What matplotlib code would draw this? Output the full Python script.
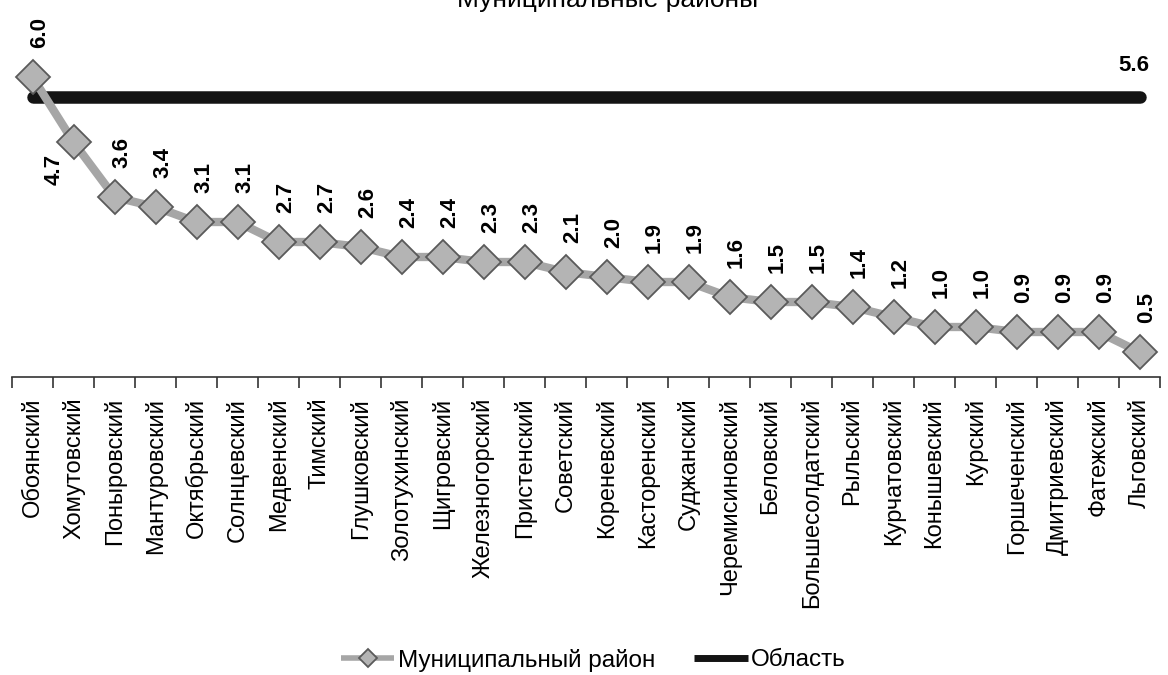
import matplotlib
matplotlib.use("Agg")
import matplotlib.pyplot as plt
import numpy as np

districts = ["Обоянский", "Хомутовский", "Поныровский", "Мантуровский", "Октябрьский",
             "Солнцевский", "Медвенский", "Тимский", "Глушковский", "Золотухинский",
             "Щигровский", "Железногорский", "Пристенский", "Советский", "Кореневский",
             "Касторенский", "Суджанский", "Черемисиновский", "Беловский", "Большесолдатский",
             "Рыльский", "Курчатовский", "Конышевский", "Курский", "Горшеченский",
             "Дмитриевский", "Фатежский", "Льговский"]
district_values = [6.0, 4.7, 3.6, 3.4, 3.1, 3.1, 2.7, 2.7, 2.6, 2.4, 2.4, 2.3, 2.3, 2.1,
                   2.0, 1.9, 1.9, 1.6, 1.5, 1.5, 1.4, 1.2, 1.0, 1.0, 0.9, 0.9, 0.9, 0.5]
region_value = 5.6
series_names = ["Муниципальный район", "Область"]
title = "Муниципальные районы"

FONT = ["Liberation Sans", "DejaVu Sans"]
plt.rcParams['font.family'] = FONT

fig = plt.figure(figsize=(11.68, 6.75), dpi=100)
ax = fig.add_axes([12/1168, (675-377)/675, (1160-12)/1168, 377/675])

x = np.arange(len(districts))
region = [region_value] * len(districts)

ax.plot(x, region, color="#141414", lw=9, solid_capstyle="round", zorder=2,
        label=series_names[1])
ax.plot(x, district_values, color="#a6a6a6", lw=6, marker="D", markersize=17.5,
        markerfacecolor="#b4b4b4", markeredgecolor="#5a5a5a", markeredgewidth=1.3,
        zorder=3, label=series_names[0])

ax.set_xlim(-0.5, len(districts) - 0.5)
ax.set_ylim(0, 7.54)

for xi, v in zip(x, district_values):
    if xi == 1:
        ax.annotate(f"{v:.1f}", (xi, v), xytext=(-14, -19.5), textcoords="offset points",
                    rotation=90, ha="center", va="center", fontsize=16, fontweight="bold")
    else:
        ax.annotate(f"{v:.1f}", (xi, v), xytext=(5, 21), textcoords="offset points",
                    rotation=90, ha="center", va="bottom", fontsize=16, fontweight="bold")
ax.annotate(f"{region_value:.1f}", (x[-1], region_value), xytext=(-4, 15),
            textcoords="offset points", ha="center", va="bottom", fontsize=16,
            fontweight="bold")

ax.set_xticks(x)
ax.set_xticklabels(districts, rotation=90, fontsize=17)
ax.tick_params(axis="x", which="major", length=0, pad=15)
ax.set_xticks(np.arange(len(districts) + 1) - 0.5, minor=True)
ax.tick_params(axis="x", which="minor", length=8, width=1.2, color="#333333")
ax.set_yticks([])
for s in ["top", "right", "left"]:
    ax.spines[s].set_visible(False)
ax.spines["bottom"].set_color("#333333")
ax.spines["bottom"].set_linewidth(1.2)

fig.text(0.52, 1 - 7/675, title, ha="center", va="baseline", fontsize=19)

handles, labels = ax.get_legend_handles_labels()
leg = fig.legend(handles[::-1], labels[::-1], loc="center", ncol=2,
                 bbox_to_anchor=(0.508, 1 - 660/675), frameon=False, fontsize=17.5,
                 handlelength=2.2, handletextpad=0.15, columnspacing=1.6,
                 markerscale=0.55)
for ln in leg.get_lines():
    ln.set_solid_capstyle("butt")
leg.get_lines()[0].set_linewidth(4)
leg.get_lines()[1].set_linewidth(5)

fig.savefig("out.png", dpi=100)
